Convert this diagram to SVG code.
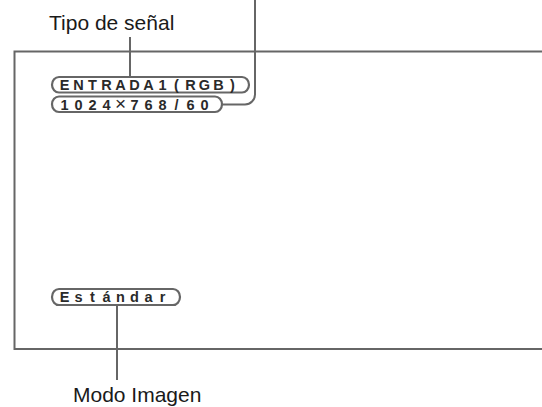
<svg xmlns="http://www.w3.org/2000/svg" width="542" height="407" viewBox="0 0 542 407">
<style>
.frame{fill:none;stroke:#666;stroke-width:2}
.pill{fill:#fff;stroke:#666;stroke-width:2.2}
.conn{fill:none;stroke:#666;stroke-width:2}
.lbl{font-family:"Liberation Sans",Arial,sans-serif;font-size:21px;fill:#1a1a1a}
.ptx{font-family:"Liberation Sans",Arial,sans-serif;font-size:14.5px;font-weight:bold;fill:#2a2a2a;text-anchor:middle}
.big{font-size:19px;font-weight:normal}
</style>
<rect width="542" height="407" fill="#fff"/>
<g id="screen">
<path class="frame" d="M545 51.5 H14.5 V349 H545"/>
</g>
<g id="connectors">
<path class="conn" d="M130 37 V77"/>
<path class="conn" d="M255 0 V94.5 A10 10 0 0 1 245 104.5 H222"/>
<path class="conn" d="M117 305 V380"/>
</g>
<g id="label-tipo">
<text class="lbl" x="49" y="30">Tipo de señal</text>
</g>
<g id="pill-entrada">
<rect class="pill" x="52" y="77" width="197" height="15.5" rx="7" ry="7.75"/>
<text class="ptx" y="90" x="64.5 78.5 92.5 106.5 120.5 134.5 148.5 162.5 176.5 190.5 204.5 218.5 232.5">ENTRADA1(RGB)</text>
</g>
<g id="pill-resolucion">
<rect class="pill" x="52" y="96.5" width="170" height="15.5" rx="7" ry="7.75"/>
<text class="ptx" y="109.5" x="64.5 78.5 92.5 106.5 120.5 134.5 148.5 162.5 176.5 190.5 204.5">1024<tspan class="big">×</tspan>768/60</text>
</g>
<g id="pill-modo">
<rect class="pill" x="52" y="289" width="128" height="16" rx="7" ry="8"/>
<text class="ptx" y="302.2" x="64.5 78.5 92.5 106.5 120.5 134.5 148.5 162.5">Estándar</text>
</g>
<g id="label-modo">
<text class="lbl" x="73" y="402">Modo Imagen</text>
</g>
</svg>
